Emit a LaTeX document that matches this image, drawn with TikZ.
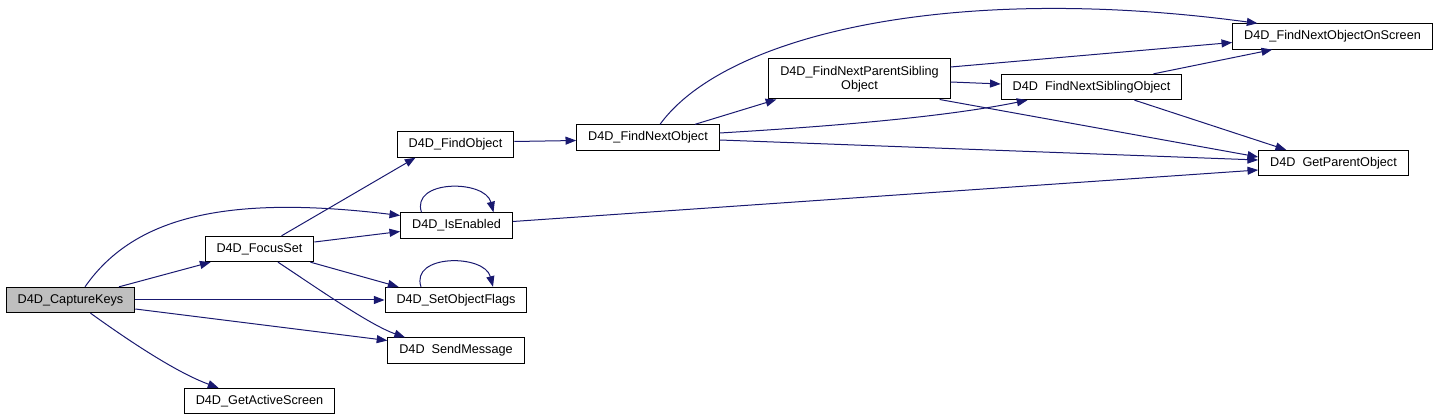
\documentclass[tikz,border=0pt]{standalone}
\usepackage{fontspec}
\setmainfont{Liberation Sans}
\usepackage{xcolor}
\usepackage{tikz}
\usetikzlibrary{arrows.meta,calc}

\definecolor{edgeblue}{HTML}{191970}

\begin{document}
\begin{tikzpicture}[x=0.75pt, y=-0.75pt,
    fn/.style={draw=black, fill=white, line width=0.75pt, inner xsep=8.6pt, inner ysep=0pt,
      minimum height=19pt, align=center, font=\fontsize{9.5}{10.7}\selectfont},
    cur/.style={fn, fill=black!25},
    call/.style={draw=edgeblue, line width=0.75pt, -{Triangle[length=8pt,width=6pt]}}]

  \useasboundingbox (0,0) rectangle (1440,420);

  % Functions
  \node[cur] (cap) at (70.5,300) {D4D\_CaptureKeys};
  \node[fn] (fs) at (259.5,249) {D4D\_FocusSet};
  \node[fn] (isen) at (456.5,225.5) {D4D\_IsEnabled};
  \node[fn] (som) at (456,300) {D4D\_SetObjectFlags};
  \node[fn] (sm) at (456,350.5) {D4D~~SendMessage};
  \node[fn] (gas) at (259.5,401) {D4D\_GetActiveScreen};
  \node[fn] (fo) at (455.5,144.5) {D4D\_FindObject};
  \node[fn] (fno) at (648,137.5) {D4D\_FindNextObject};
  \node[fn, minimum height=30pt] (fnps) at (859.5,79) {D4D\_FindNextParentSibling\\Object};
  \node[fn] (fnso) at (1091.5,87) {D4D~~FindNextSiblingObject};
  \node[fn] (fnos) at (1332.5,36.5) {D4D\_FindNextObjectOnScreen};
  \node[fn] (gpo) at (1333.5,163) {D4D~~GetParentObject};

  % Calls from D4D_CaptureKeys
  \draw[call] ($(cap.north)+(14.5,0)$) .. controls (135,215) and (230,195) .. ($(isen.west)+(0,-10)$);
  \draw[call] ($(cap.north)+(48.5,0)$) -- ($(fs.south west)+(6,0)$);
  \draw[call] (cap.east) -- (som.west);
  \draw[call] ($(cap.east)+(0,9)$) -- ($(sm.west)+(0,-10)$);
  \draw[call] ($(cap.south)+(20,0)$) .. controls (125,338) and (175,372) .. ($(gas.north)+(-41,0)$);

  % Calls from D4D_FocusSet
  \draw[call] ($(fs.north)+(22,0)$) -- ($(fo.south)+(-40,0)$);
  \draw[call] ($(fs.east)+(0,-7)$) -- ($(isen.west)+(0,6)$);
  \draw[call] ($(fs.south east)+(-4,0)$) -- ($(som.north west)+(14,0)$);
  \draw[call] ($(fs.south)+(18.5,0)$) .. controls (320,290) and (370,325) .. ($(sm.north)+(-51,0)$);

  % Recursive calls
  \foreach \n in {isen,som}
    \draw[call] ($(\n.north)+(-35,0)$) .. controls +(-11,-33) and +(-8.5,-33) .. ($(\n.north)+(37,0)$);

  \draw[call] ($(isen.east)+(0,-4)$) -- ($(gpo.west)+(0,7)$);

  % Object search
  \draw[call] ($(fo.east)+(0,-3)$) -- ($(fno.west)+(0,3)$);
  \draw[call] ($(fno.north)+(12,0)$) .. controls (725,35) and (950,-18) .. ($(fnos.north)+(-75,0)$);
  \draw[call] ($(fno.north)+(47,0)$) -- ($(fnps.south west)+(8,0)$);
  \draw[call] ($(fno.east)+(0,-4.5)$) .. controls (820,127) and (940,118) .. ($(fnso.south)+(-64,0)$);
  \draw[call] ($(fno.east)+(0,2.5)$) -- ($(gpo.west)+(0,-3)$);
  \draw[call] ($(fnps.east)+(0,-12)$) -- ($(fnos.west)+(0,6)$);
  \draw[call] ($(fnps.east)+(0,3)$) -- ($(fnso.west)+(0,-3)$);
  \draw[call] ($(fnps.south east)+(-11,0)$) -- ($(gpo.west)+(0,-6)$);
  \draw[call] ($(fnso.north)+(62,0)$) -- ($(fnos.south west)+(40,0)$);
  \draw[call] ($(fnso.south)+(43,0)$) -- ($(gpo.north west)+(28,0)$);

\end{tikzpicture}
\end{document}
